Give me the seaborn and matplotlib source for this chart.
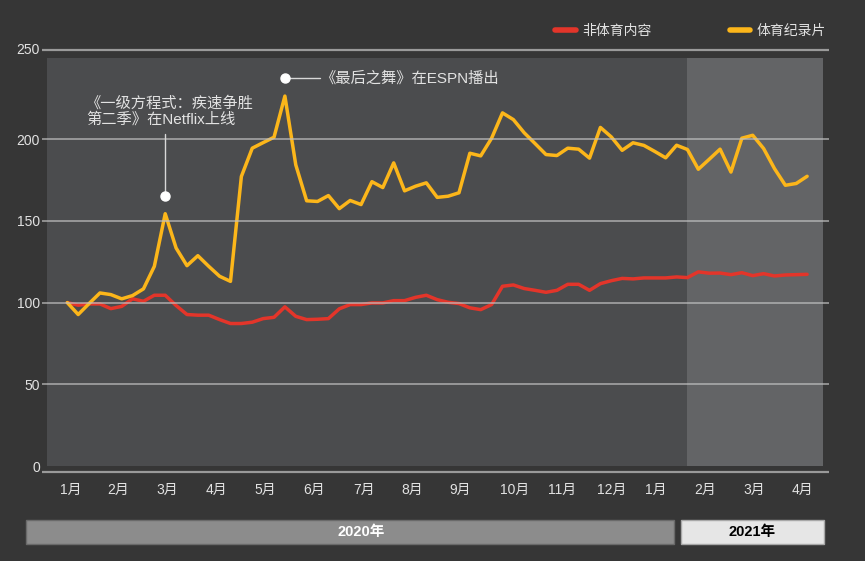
import numpy as np
import pandas as pd
import matplotlib
matplotlib.use("Agg")
import matplotlib.pyplot as plt
from matplotlib.patches import Rectangle
import seaborn as sns

# ---------------- data ----------------
sports_docs = [100, 92.7, 99.4, 105.9, 104.9, 102.3, 104.3, 108.4, 122.2, 154.4,
               133.4, 122.6, 128.7, 122.2, 116.1, 113.0, 177.2, 194.5, 197.9, 201.2,
               226.4, 184.3, 162.3, 161.9, 165.5, 157.5, 162.5, 160.0, 174.0, 170.4,
               185.5, 168.4, 171.2, 173.3, 164.4, 165.1, 167.2, 191.4, 189.8, 200.6,
               216.1, 212.0, 203.9, 197.3, 190.6, 190.0, 194.5, 193.9, 188.4, 207.2,
               201.4, 193.2, 197.8, 196.2, 192.5, 188.6, 196.3, 193.7, 181.6, 187.7,
               193.9, 179.9, 200.6, 202.4, 194.3, 182.0, 171.8, 172.9, 177.3]
non_sports = [100, 98.4, 99.2, 99.2, 96.3, 97.7, 102.3, 100.8, 104.5, 104.5,
              98.2, 92.7, 92.3, 92.3, 89.6, 87.2, 87.2, 88.0, 90.2, 91.0,
              97.4, 91.6, 89.6, 89.8, 90.2, 96.2, 98.8, 98.8, 99.8, 99.8,
              101.2, 101.2, 103.2, 104.5, 101.8, 100.2, 99.4, 96.8, 95.7, 98.8,
              110.0, 110.8, 108.6, 107.5, 106.3, 107.5, 111.2, 111.2, 107.5, 111.6,
              113.4, 114.8, 114.5, 115.1, 115.1, 115.1, 115.7, 115.3, 118.8, 118.0,
              118.1, 117.1, 118.3, 116.5, 117.7, 116.3, 116.9, 117.1, 117.3]
series_names = ["非体育内容", "体育纪录片"]
series_colors = ["#e3352a", "#fcb61a"]
month_labels = ["1月", "2月", "3月", "4月", "5月", "6月", "7月", "8月", "9月",
                "10月", "11月", "12月", "1月", "2月", "3月", "4月"]
month_pos = [0.3, 4.7, 9.2, 13.7, 18.2, 22.7, 27.3, 31.7, 36.1, 41.1, 45.5,
             50.0, 54.1, 58.6, 63.1, 67.6]
ytick_vals = [0, 50, 100, 150, 200]
top_label = "250"
year_labels = ["2020年", "2021年"]
ann1_text = "《一级方程式：疾速争胜\n第二季》在Netflix上线"
ann2_text = "《最后之舞》在ESPN播出"

weeks = np.arange(len(sports_docs))
df = pd.DataFrame({
    "week": np.concatenate([weeks, weeks]),
    "value": non_sports + sports_docs,
    "series": [series_names[0]] * len(weeks) + [series_names[1]] * len(weeks),
})

# ---------------- style ----------------
sns.set_theme(style="dark")
plt.rcParams["font.family"] = ["Liberation Sans", "Noto Sans CJK SC", "DejaVu Sans"]
plt.rcParams["axes.unicode_minus"] = False

BG = "#363636"
INNER = "#4b4c4e"
LIGHT = "#636466"
TXT = "#e2e2e2"

W, H = 865, 561
fig = plt.figure(figsize=(W / 100, H / 100), dpi=100, facecolor=BG)
ax = fig.add_axes([47 / W, (H - 466) / H, 776 / W, (466 - 57.5) / H])
ax.set_facecolor(INNER)
for s in ax.spines.values():
    s.set_visible(False)

ax.axvspan(56.96, 69.46, color=LIGHT, zorder=0.5, lw=0)

sns.lineplot(data=df, x="week", y="value", hue="series",
             palette=dict(zip(series_names, series_colors)),
             linewidth=2.5, ax=ax, zorder=3)

# grid lines (drawn across the data like the reference)
ax.hlines([50, 100, 150, 200], -0.0064, 1.0077, transform=ax.get_yaxis_transform(),
          colors="#c0c0c0", alpha=0.65, lw=1.4, zorder=4, clip_on=False)
# top / bottom frame lines
ax.hlines([254.6, -3.7], -0.0064, 1.0077, transform=ax.get_yaxis_transform(),
          colors="#9a9a9a", lw=1.6, zorder=4, clip_on=False)

ax.set_yticks(ytick_vals)
ax.set_yticklabels([str(v) for v in ytick_vals])
ax.set_xticks(month_pos)
ax.set_xticklabels(month_labels)
ax.tick_params(axis="y", length=0, pad=5, labelsize=10, labelcolor=TXT)
ax.tick_params(axis="x", length=0, pad=12, labelsize=10, labelcolor=TXT)
ax.set_xlabel("")
ax.set_ylabel("")
ax.grid(False)

ax.set_xlim(-1.866, 69.46)
ax.set_ylim(0, 250)

ax.text(-0.009, 254.6, top_label, transform=ax.get_yaxis_transform(),
        ha="right", va="center", fontsize=10, color=TXT, clip_on=False)

# annotations
ax.plot([9, 9], [165, 203], color="#d8d8d8", lw=1, zorder=5)
ax.plot([9], [165], "o", color="white", ms=6.5, zorder=6, clip_on=False)
ax.text(1.72, 217.1, ann1_text, ha="left", va="center", fontsize=11,
        color=TXT, linespacing=1.15, zorder=6)
ax.plot([20, 23.2], [237.4, 237.4], color="#d8d8d8", lw=1, zorder=5, clip_on=False)
ax.plot([20], [237.4], "o", color="white", ms=6.5, zorder=6, clip_on=False)
ax.text(23.3, 237.4, ann2_text, ha="left", va="center", fontsize=11,
        color=TXT, zorder=6)

# legend
handles, labels = ax.get_legend_handles_labels()
leg = ax.legend(handles, labels, ncol=2, loc="upper right",
                bbox_to_anchor=(826 / W, (H - 24) / H), bbox_transform=fig.transFigure,
                frameon=False, fontsize=10, handlelength=1.5, handletextpad=0.45,
                columnspacing=5.6, borderpad=0, borderaxespad=0)
for t in leg.get_texts():
    t.set_color(TXT)
for ln in leg.get_lines():
    ln.set_linewidth(4)

# year bars
fig.add_artist(Rectangle((26 / W, (H - 544) / H), (674 - 26) / W, 24 / H,
                         transform=fig.transFigure, fc="#8c8c8c", ec="#6a6a6a", lw=1))
fig.add_artist(Rectangle((681 / W, (H - 544) / H), (824 - 681) / W, 24 / H,
                         transform=fig.transFigure, fc="#e6e6e6", ec="#a8a8a8", lw=1))
fig.text(361 / W, (H - 532) / H, year_labels[0], ha="center", va="center",
         color="white", fontweight="bold", fontsize=10.5)
fig.text(752 / W, (H - 532) / H, year_labels[1], ha="center", va="center",
         color="black", fontweight="bold", fontsize=10.5)

fig.savefig("out.png", dpi=100, facecolor=BG)
